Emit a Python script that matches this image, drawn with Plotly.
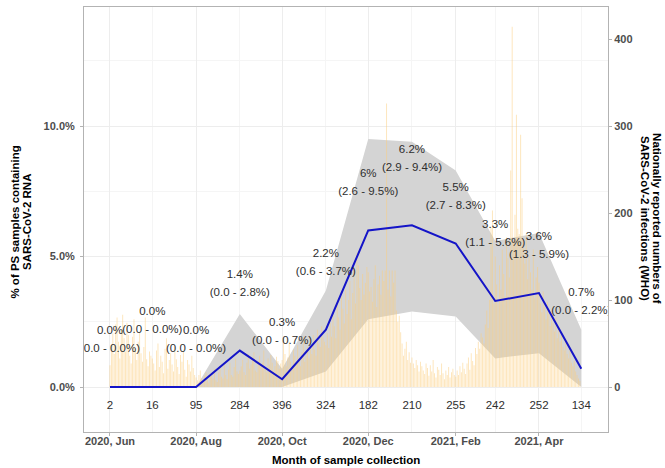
import pandas as pd
import plotly.graph_objects as go

# monthly sampling results (first of each month)
months = ["2020-06-01", "2020-07-01", "2020-08-01", "2020-09-01", "2020-10-01", "2020-11-01",
          "2020-12-01", "2021-01-01", "2021-02-01", "2021-03-01", "2021-04-01", "2021-05-01"]
n_samples = [2, 16, 95, 284, 396, 324, 182, 210, 255, 242, 252, 134]
pct = [0.0, 0.0, 0.0, 1.4, 0.3, 2.2, 6.0, 6.2, 5.5, 3.3, 3.6, 0.7]
pct_lower = [0.0, 0.0, 0.0, 0.0, 0.0, 0.6, 2.6, 2.9, 2.7, 1.1, 1.3, 0.0]
pct_upper = [0.0, 0.0, 0.0, 2.8, 0.7, 3.7, 9.5, 9.4, 8.3, 5.6, 5.9, 2.2]
pct_labels = ["0.0%", "0.0%", "0.0%", "1.4%", "0.3%", "2.2%", "6%", "6.2%", "5.5%", "3.3%", "3.6%", "0.7%"]

# daily nationally reported infections (WHO)
cases_jun = [25, 48, 62, 38, 72, 80, 52, 33, 66, 83, 56, 41, 74, 60, 36, 27, 58, 78, 44, 31,
             52, 63, 39, 29, 46, 80, 32, 24, 41, 36]
cases_jul = [33, 27, 19, 42, 50, 23, 36, 29, 16, 44, 56, 21, 31, 39, 26, 18, 46, 32, 23, 15,
             37, 29, 41, 20, 12, 31, 26, 18, 36, 22, 14]
cases_aug = [11, 8, 14, 19, 10, 6, 13, 17, 9, 5, 12, 15, 10, 21, 8, 6, 17, 24, 12, 10,
             26, 14, 9, 20, 28, 14, 12, 23, 33, 18, 15]
cases_sep = [19, 24, 31, 17, 14, 28, 38, 21, 26, 33, 40, 19, 17, 30, 36, 24, 28, 42, 21, 17,
             33, 26, 37, 28, 19, 24, 35, 30, 21, 27]
cases_oct = [31, 56, 38, 24, 34, 52, 29, 21, 43, 36, 27, 48, 33, 24, 40, 58, 29, 36, 46, 33,
             52, 38, 60, 43, 36, 66, 50, 46, 70, 57, 52]
cases_nov = [48, 62, 45, 74, 58, 85, 70, 56, 95, 80, 66, 104, 90, 73, 112, 84, 100, 122, 78, 108,
             134, 96, 154, 140, 114, 100, 130, 106, 120, 138]
cases_dec = [132, 110, 115, 98, 124, 140, 92, 118, 128, 106, 134, 122, 134, 326, 112, 134, 104, 134, 120, 134,
             88, 75, 82, 63, 50, 36, 44, 52, 31, 40, 28]
cases_jan = [34, 27, 22, 31, 25, 18, 29, 24, 19, 15, 27, 22, 13, 25, 18, 31, 16, 11, 23, 20,
             14, 27, 16, 9, 19, 14, 23, 11, 17, 21, 14]
cases_feb = [12, 19, 14, 24, 17, 28, 21, 15, 27, 34, 20, 39, 30, 25, 45, 38, 52, 44, 62, 57,
             50, 72, 88, 68, 100, 184, 203, 96]
cases_mar = [150, 118, 96, 140, 112, 158, 130, 104, 172, 148, 126, 249, 414, 168, 198, 313, 182, 176, 290, 217,
             160, 142, 176, 124, 150, 132, 112, 158, 102, 126, 138]
cases_apr = [120, 96, 86, 110, 92, 78, 98, 84, 70, 88, 74, 64, 80, 56, 66, 52, 60, 46, 42, 54,
             38, 33, 42, 28, 24, 30, 18, 14, 10, 7]

cases = (cases_jun + cases_jul + cases_aug + cases_sep + cases_oct + cases_nov
         + cases_dec + cases_jan + cases_feb + cases_mar + cases_apr)
days = pd.date_range("2020-06-01", "2021-04-30", freq="D")
assert len(days) == len(cases)

major_ticks = ["2020-06-01", "2020-08-01", "2020-10-01", "2020-12-01", "2021-02-01", "2021-04-01"]
major_text = ["2020, Jun", "2020, Aug", "2020, Oct", "2020, Dec", "2021, Feb", "2021, Apr"]
minor_ticks = ["2020-07-01", "2020-09-01", "2020-11-01", "2021-01-01", "2021-03-01", "2021-05-01"]

FONT = "Liberation Sans, Arial, sans-serif"
PCT_RANGE = [-1.72, 14.56]
CASE_RANGE = [PCT_RANGE[0] * 30, PCT_RANGE[1] * 30]

# label placement: alternating nudge above the point estimate
nudges = [1.45, 2.2]
ci_y = [p + nudges[i % 2] for i, p in enumerate(pct)]
pct_y = [y + 0.69 for y in ci_y]
ci_labels = [f"({lo:.1f} - {hi:.1f}%)" for lo, hi in zip(pct_lower, pct_upper)]
n_label_y = -0.73

fig = go.Figure()

# confidence ribbon
fig.add_trace(go.Scatter(x=months, y=pct_lower, mode="lines", line=dict(width=0),
                         hoverinfo="skip", yaxis="y"))
fig.add_trace(go.Scatter(x=months, y=pct_upper, mode="lines", line=dict(width=0),
                         fill="tonexty", fillcolor="#D4D4D4", hoverinfo="skip", yaxis="y"))

# daily case bars on the secondary axis
fig.add_trace(go.Bar(x=days, y=cases, marker=dict(color="rgba(252,205,125,0.55)", line=dict(width=0)),
                     yaxis="y2"))

# positivity line and labels on top
fig.add_trace(go.Scatter(x=months, y=pct, mode="lines", line=dict(color="#1414C8", width=2),
                         yaxis="y3"))
fig.add_trace(go.Scatter(x=months, y=pct_y, mode="text", text=pct_labels,
                         textfont=dict(family=FONT, size=11.5, color="#2E2E2E"), yaxis="y3"))
fig.add_trace(go.Scatter(x=months, y=ci_y, mode="text", text=ci_labels,
                         textfont=dict(family=FONT, size=11.5, color="#2E2E2E"), yaxis="y3"))
fig.add_trace(go.Scatter(x=months, y=[n_label_y] * len(months), mode="text",
                         text=[str(n) for n in n_samples],
                         textfont=dict(family=FONT, size=11.5, color="#2E2E2E"), yaxis="y3"))

tickfont = dict(family=FONT, size=11, color="#4D4D4D", weight="bold")
titlefont = dict(family=FONT, size=11.5, color="black", weight="bold")

fig.update_layout(
    width=665, height=468,
    margin=dict(l=84, r=57, t=7, b=36),
    plot_bgcolor="white", paper_bgcolor="white",
    showlegend=False, bargap=0.35,
    xaxis=dict(type="date", range=["2020-05-13 14:00", "2021-05-19 22:00"],
               tickmode="array", tickvals=major_ticks, ticktext=major_text,
               tickfont=tickfont, ticks="outside", ticklen=3, tickcolor="#B3B3B3",
               ticklabelstandoff=-4,
               showgrid=True, gridcolor="#EDEDED", gridwidth=1,
               minor=dict(tickmode="array", tickvals=minor_ticks, showgrid=True,
                          gridcolor="#F5F5F5", gridwidth=1),
               showline=True, mirror=True, linecolor="#B3B3B3", linewidth=1, zeroline=False),
    yaxis=dict(range=PCT_RANGE, side="left",
               tickmode="array", tickvals=[0, 5, 10], ticktext=["0.0%", "5.0%", "10.0%"],
               tickfont=tickfont, ticks="outside", ticklen=3, tickcolor="#B3B3B3",
               ticklabelstandoff=3,
               showgrid=True, gridcolor="#EDEDED", gridwidth=1,
               minor=dict(tickmode="array", tickvals=[2.5, 7.5, 12.5], showgrid=True,
                          gridcolor="#F5F5F5", gridwidth=1),
               showline=True, mirror=True, linecolor="#B3B3B3", linewidth=1, zeroline=False),
    yaxis2=dict(range=CASE_RANGE, overlaying="y", side="right",
                tickmode="array", tickvals=[0, 100, 200, 300, 400],
                tickfont=tickfont, ticks="outside", ticklen=3, tickcolor="#B3B3B3",
                showgrid=False, zeroline=False, showline=False),
    yaxis3=dict(range=PCT_RANGE, overlaying="y", visible=False),
)

# axis titles
fig.add_annotation(text="Month of sample collection", xref="paper", yref="paper",
                   x=0.5, y=-0.066, showarrow=False, font=titlefont,
                   xanchor="center", yanchor="middle")
fig.add_annotation(text="% of PS samples containing", xref="paper", yref="paper",
                   x=-0.1307, y=0.494, textangle=-90, showarrow=False, font=titlefont,
                   xanchor="center", yanchor="middle")
fig.add_annotation(text="SARS-CoV-2 RNA", xref="paper", yref="paper",
                   x=-0.1088, y=0.494, textangle=-90, showarrow=False, font=titlefont,
                   xanchor="center", yanchor="middle")
fig.add_annotation(text="Nationally reported numbers of", xref="paper", yref="paper",
                   x=1.0935, y=0.501, textangle=90, showarrow=False, font=titlefont,
                   xanchor="center", yanchor="middle")
fig.add_annotation(text="SARS-CoV-2 infections (WHO)", xref="paper", yref="paper",
                   x=1.0706, y=0.501, textangle=90, showarrow=False, font=titlefont,
                   xanchor="center", yanchor="middle")

# drop the default page margin so the figure sits at the window origin
fig.write_html("out.html", config={"displayModeBar": False},
               post_script="document.body.style.margin='0px';")
